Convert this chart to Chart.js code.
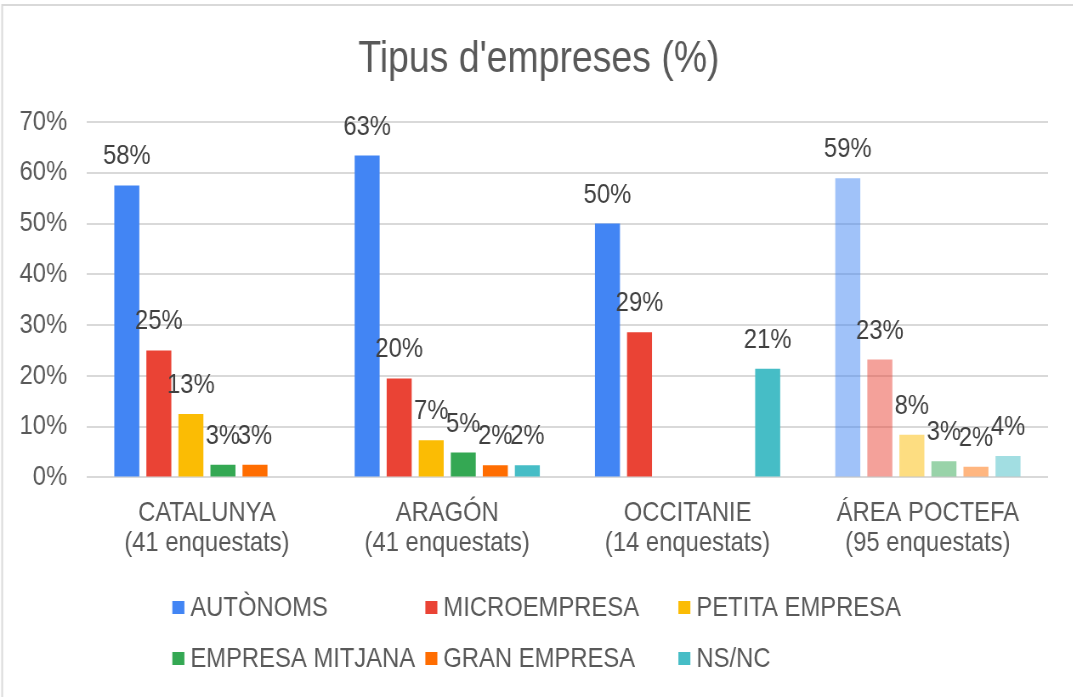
<!DOCTYPE html>
<html>
<head>
<meta charset="utf-8">
<script src="https://cdn.jsdelivr.net/npm/chart.js@4/dist/chart.umd.min.js"></script>
<style>
    html, body { margin: 0; padding: 0; background: #ffffff; overflow: hidden; }
    /* the reference uses a narrow face: draw wider and squeeze horizontally */
    #wrap { width: 1262px; height: 697px; position: relative; transform: scaleX(0.85); transform-origin: 0 0; }
</style>
</head>
<body>
<div id="wrap"><canvas id="chart"></canvas></div>
<script>
// Data
const chartTitle = "Tipus d'empreses (%)";
const categories = [
    ['CATALUNYA', '(41 enquestats)'],
    ['ARAGÓN', '(41 enquestats)'],
    ['OCCITANIE', '(14 enquestats)'],
    ['ÁREA POCTEFA', '(95 enquestats)']
];
const seriesNames = ['AUTÒNOMS', 'MICROEMPRESA', 'PETITA EMPRESA', 'EMPRESA MITJANA', 'GRAN EMPRESA', 'NS/NC'];
const autonoms = [57.5, 63.4, 50.0, 58.9];
const microempresa = [25.0, 19.5, 28.6, 23.2];
const petitaEmpresa = [12.5, 7.3, 0, 8.4];
const empresaMitjana = [2.5, 4.9, 0, 3.2];
const granEmpresa = [2.5, 2.4, 0, 2.1];
const nsnc = [0, 2.4, 21.4, 4.2];
const yMax = 70;
const yStep = 10;

const SQUEEZE = 0.85;
const FONT = '"Liberation Sans", Arial, sans-serif';
const seriesColors = ['66,133,244', '234,67,53', '251,188,4', '52,168,83', '255,109,1', '70,189,198'];

// Last category (POCTEFA) drawn with lighter colours
function barColors(rgb) {
    return categories.map((c, i) => i === 3 ? `rgba(${rgb},0.5)` : `rgb(${rgb})`);
}

const allSeries = [autonoms, microempresa, petitaEmpresa, empresaMitjana, granEmpresa, nsnc];

const datasets = allSeries.map((values, i) => ({
    label: seriesNames[i],
    data: values,
    backgroundColor: barColors(seriesColors[i]),
    borderWidth: 0,
    categoryPercentage: 0.8,
    barPercentage: 0.78
}));

// Value labels over the bars
const valueLabels = {
    id: 'valueLabels',
    afterDatasetsDraw(chart) {
        const ctx = chart.ctx;
        ctx.save();
        ctx.font = '28px ' + FONT;
        ctx.fillStyle = '#404040';
        ctx.textAlign = 'center';
        ctx.textBaseline = 'alphabetic';
        chart.data.datasets.forEach((ds, di) => {
            const meta = chart.getDatasetMeta(di);
            meta.data.forEach((bar, i) => {
                const v = ds.data[i];
                if (!v) return;
                ctx.fillText(Math.round(v) + '%', bar.x, bar.y - 21);
            });
        });
        ctx.restore();
    }
};

// Frame, centred title and legend in a 3-column grid
const decorations = {
    id: 'decorations',
    beforeDraw(chart) {
        const ctx = chart.ctx;
        ctx.save();
        ctx.strokeStyle = '#d9d9d9';
        ctx.lineWidth = 2;
        ctx.strokeRect(2.5, 5, chart.width + 10, chart.height + 10);
        ctx.restore();
    },
    afterDraw(chart) {
        const ctx = chart.ctx;
        ctx.save();
        ctx.font = '44px ' + FONT;
        ctx.fillStyle = '#595959';
        ctx.textAlign = 'center';
        ctx.textBaseline = 'alphabetic';
        ctx.fillText(chartTitle, chart.width / 2 + 3, 72);

        const startX = chart.width / 2 - 364 / SQUEEZE;
        const colW = 253 / SQUEEZE;
        const rows = [607, 658];
        ctx.font = '28px ' + FONT;
        ctx.textBaseline = 'middle';
        ctx.textAlign = 'left';
        seriesNames.forEach((name, i) => {
            const x = startX + (i % 3) * colW;
            const y = rows[Math.floor(i / 3)];
            ctx.fillStyle = `rgb(${seriesColors[i]})`;
            ctx.fillRect(x, y - 6, 12 / SQUEEZE, 13);
            ctx.fillStyle = '#595959';
            ctx.fillText(name, x + 18 / SQUEEZE, y + 1);
        });
        ctx.restore();
    }
};

document.addEventListener('DOMContentLoaded', function() {
    const ctx = document.getElementById('chart').getContext('2d');
    new Chart(ctx, {
        type: 'bar',
        data: {
            labels: categories,
            datasets: datasets
        },
        options: {
            responsive: true,
            maintainAspectRatio: false,
            animation: false,
            layout: {
                padding: { left: 0, right: 29, top: 122, bottom: 126 }
            },
            plugins: {
                legend: { display: false },
                tooltip: { enabled: false },
                title: { display: false }
            },
            scales: {
                x: {
                    grid: { display: false },
                    border: { display: false },
                    ticks: {
                        color: '#595959',
                        font: { family: FONT, size: 28, lineHeight: 1.1 },
                        padding: 12,
                        maxRotation: 0,
                        autoSkip: false
                    }
                },
                y: {
                    min: 0,
                    max: yMax,
                    border: { display: false },
                    grid: { color: '#d9d9d9', lineWidth: 2, drawTicks: false },
                    ticks: {
                        stepSize: yStep,
                        color: '#595959',
                        font: { family: FONT, size: 28 },
                        padding: 23,
                        callback: v => v + '%'
                    }
                }
            }
        },
        plugins: [valueLabels, decorations]
    });
});
</script>
</body>
</html>
